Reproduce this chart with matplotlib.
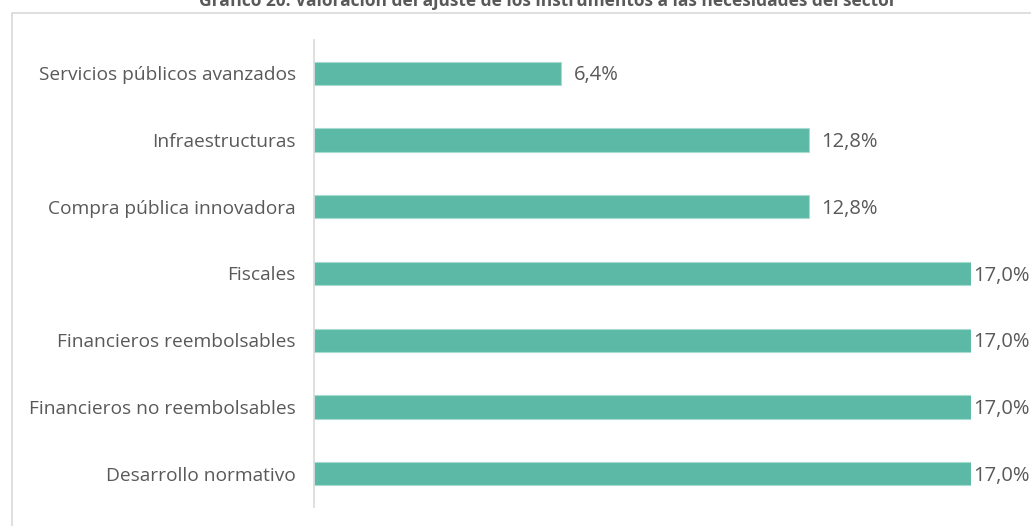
import matplotlib.pyplot as plt
from matplotlib.patches import Rectangle

# Data
categorias = ["Servicios públicos avanzados", "Infraestructuras", "Compra pública innovadora",
              "Fiscales", "Financieros reembolsables", "Financieros no reembolsables",
              "Desarrollo normativo"]
valores = [6.4, 12.8, 12.8, 17.0, 17.0, 17.0, 17.0]
titulo = "Gráfico 20. Valoración del ajuste de los instrumentos a las necesidades del sector"

plt.rcParams['font.family'] = ['Open Sans', 'DejaVu Sans']
texto = '#595959'
verde = '#5BB9A6'

fig = plt.figure(figsize=(10.31, 5.26), dpi=100)
W, H = 1031, 526
ax = fig.add_axes([314 / W, 19 / H, (971 - 314) / W, (507 - 40) / H])

pos = list(range(len(categorias)))
ax.barh(pos, valores, height=0.35, color=verde, edgecolor='#A8DCD0', linewidth=0.8)
ax.set_xlim(0, 17)
ax.set_ylim(len(categorias) - 0.5, -0.5)
ax.set_yticks(pos)
ax.set_yticklabels(categorias, fontsize=13.8, color=texto)
ax.tick_params(axis='y', length=0, pad=13)
ax.set_xticks([])
for s in ['top', 'right', 'bottom']:
    ax.spines[s].set_visible(False)
ax.spines['left'].set_color('#D9D9D9')
ax.spines['left'].set_linewidth(1.2)

vmax = max(valores)
for p, v in zip(pos, valores):
    off = 1.5 if v == vmax else 9
    ax.annotate(f"{v:.1f}%".replace('.', ','), (v, p), xytext=(off, -1.5), textcoords='offset points',
                va='center', ha='left', fontsize=14.5, color=texto, annotation_clip=False)

# chart frame
fig.patches.append(Rectangle((12 / W, -0.1), 1.2, 1 - 13 / H + 0.1, transform=fig.transFigure,
                             fill=False, edgecolor='#D9D9D9', linewidth=1.2))

fig.text(548 / W, 1 - 6 / H, titulo, ha='center', va='baseline', fontsize=12.5,
         fontweight='bold', color=texto)

fig.savefig('out.png', dpi=100)
